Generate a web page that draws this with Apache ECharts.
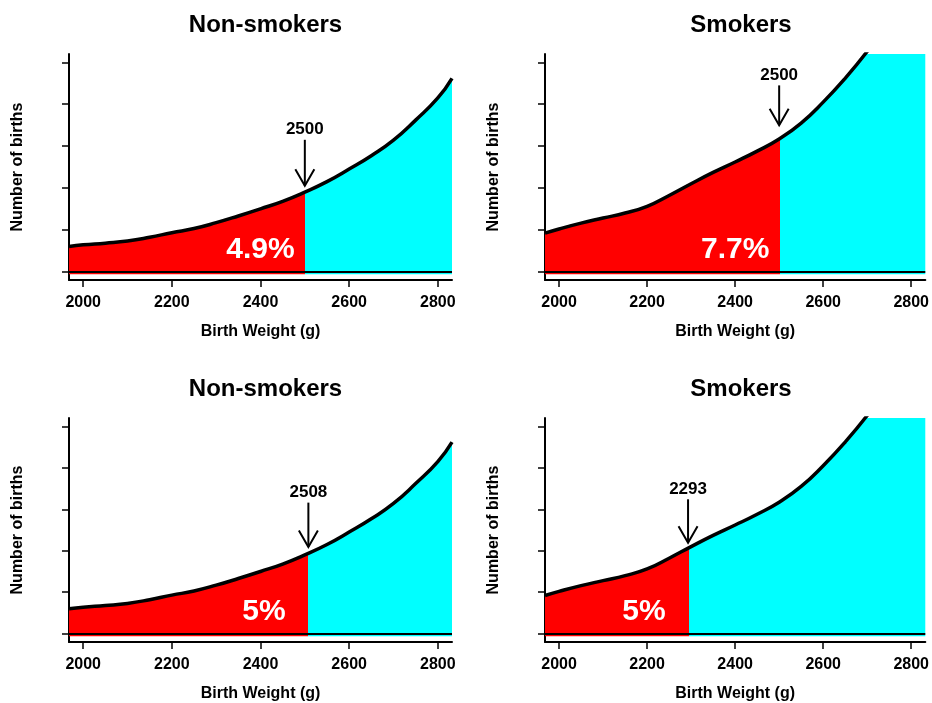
<!DOCTYPE html>
<html>
<head>
<meta charset="utf-8">
<script src="https://cdn.jsdelivr.net/npm/echarts@6/dist/echarts.min.js"></script>
<style>
  html, body { margin: 0; padding: 0; background: #fff; }
  #chart { width: 932px; height: 703px; }
</style>
</head>
<body>
<div id="chart"></div>
<script>
// Birth weight (g) sample points shared by both density curves
const weights = [1968, 2000, 2050, 2100, 2150, 2200, 2250, 2300, 2350, 2400, 2450, 2500, 2550, 2600, 2650, 2700, 2750, 2800, 2832];
// Relative number of births (arbitrary units, one unit per y tick)
const nonSmokers = [0.60, 0.64, 0.68, 0.73, 0.82, 0.93, 1.03, 1.17, 1.33, 1.50, 1.68, 1.90, 2.15, 2.45, 2.77, 3.14, 3.62, 4.15, 4.62];
const smokers = [0.92, 1.02, 1.16, 1.28, 1.40, 1.56, 1.82, 2.10, 2.37, 2.62, 2.88, 3.17, 3.55, 4.05, 4.62, 5.26, 5.98, 6.75, 7.30];

// Panels: top row uses a fixed 2500 g cutoff, bottom row a fixed 5% tail
const panelTitles = ['Non-smokers', 'Smokers', 'Non-smokers', 'Smokers'];
const panelGroups = ['non', 'smk', 'non', 'smk'];
const cutoffs = [2500, 2500, 2508, 2293];
const shares = ['4.9%', '7.7%', '5%', '5%'];
// Arrow ends (in births units) pointing at each cutoff
const arrowTop = [3.15, 4.45, 3.16, 3.24];
const arrowTip = [2.05, 3.50, 2.09, 2.19];

const xTicks = [2000, 2200, 2400, 2600, 2800];
const yTicks = [0, 1, 2, 3, 4, 5];

const X_MIN = 1968, X_MAX = 2832;
const FONT = '"Liberation Sans", Arial, Helvetica, sans-serif';
const RED = '#ff0000', CYAN = '#00ffff';
const SMOOTH = 0.5;
const curves = { non: nonSmokers, smk: smokers };

const gridBoxes = [
  { left: 69, top: 54, width: 383, height: 226 },
  { left: 545, top: 54, width: 382, height: 226 },
  { left: 69, top: 418, width: 383, height: 226 },
  { left: 545, top: 418, width: 382, height: 226 }
];

const grid = [], xAxis = [], yAxis = [], series = [], title = [];

panelTitles.forEach((name, p) => {
  const g = gridBoxes[p];
  grid.push(Object.assign({ containLabel: false }, g));
  title.push({
    text: name,
    left: g.left + g.width / 2,
    top: g.top - 46,
    textAlign: 'center',
    textStyle: { fontFamily: FONT, fontSize: 24, fontWeight: 'bold', color: '#000' }
  });
  xAxis.push({
    type: 'value', gridIndex: p, min: X_MIN, max: X_MAX,
    name: 'Birth Weight (g)', nameLocation: 'middle', nameGap: 44,
    nameTextStyle: { fontFamily: FONT, fontSize: 16, fontWeight: 'bold', color: '#000' },
    axisLine: { show: true, onZero: false, lineStyle: { color: '#000', width: 2 } },
    axisTick: { show: true, length: 7, customValues: xTicks, lineStyle: { color: '#000', width: 1.5 } },
    axisLabel: {
      show: true, customValues: xTicks, margin: 15, formatter: v => String(v),
      fontFamily: FONT, fontSize: 16, fontWeight: 'bold', color: '#000'
    },
    splitLine: { show: false }
  });
  yAxis.push({
    type: 'value', gridIndex: p, min: -0.2, max: 5.2,
    name: 'Number of births', nameLocation: 'middle', nameGap: 43,
    nameTextStyle: { fontFamily: FONT, fontSize: 16, fontWeight: 'bold', color: '#000' },
    axisLine: { show: true, onZero: false, lineStyle: { color: '#000', width: 2 } },
    axisTick: { show: true, length: 7, customValues: yTicks, lineStyle: { color: '#000', width: 1.5 } },
    axisLabel: { show: false },
    splitLine: { show: false }
  });

  const pts = weights.map((w, i) => [w, curves[panelGroups[p]][i]]);

  // filled area: red below the cutoff, cyan above it (hard gradient stop in screen space)
  const f = (cutoffs[p] - X_MIN) / (X_MAX - X_MIN);
  const fill = new echarts.graphic.LinearGradient(g.left, 0, g.left + g.width, 0, [
    { offset: 0, color: RED }, { offset: f, color: RED },
    { offset: f, color: CYAN }, { offset: 1, color: CYAN }
  ], true);
  series.push({
    type: 'line', xAxisIndex: p, yAxisIndex: p, data: pts,
    smooth: SMOOTH, symbol: 'none', clip: true, z: 1, silent: true,
    lineStyle: { width: 0 },
    areaStyle: { color: fill, opacity: 1, origin: -0.06 }
  });

  // outline of the density curve and the zero line
  series.push({
    type: 'line', xAxisIndex: p, yAxisIndex: p, data: pts,
    smooth: SMOOTH, symbol: 'none', clip: true, z: 3, silent: true,
    lineStyle: { color: '#000', width: 3.5 },
    itemStyle: { color: '#000' },
    markLine: {
      silent: true, symbol: ['none', 'none'], label: { show: false },
      lineStyle: { color: '#000', width: 2, type: 'solid' },
      data: [{ yAxis: 0 }]
    }
  });

  // arrow, cutoff label and tail share
  series.push({
    type: 'custom', xAxisIndex: p, yAxisIndex: p, clip: false, z: 5, silent: true,
    data: [[cutoffs[p], arrowTop[p], arrowTip[p]]],
    renderItem: function (params, api) {
      const c = api.value(0);
      const top = api.coord([c, api.value(1)]);
      const tip = api.coord([c, api.value(2)]);
      const pct = api.coord([c - 100, 0.52]);
      const hx = 9.5, hy = 16.5;
      return {
        type: 'group',
        children: [
          { type: 'line', shape: { x1: top[0], y1: top[1], x2: tip[0], y2: tip[1] },
            style: { stroke: '#000', lineWidth: 2 } },
          { type: 'polyline', shape: { points: [[tip[0] - hx, tip[1] - hy], [tip[0], tip[1]], [tip[0] + hx, tip[1] - hy]] },
            style: { stroke: '#000', lineWidth: 2, fill: null } },
          { type: 'text', x: top[0], y: top[1] - 10,
            style: { text: String(c), fontFamily: FONT, fontSize: 17, fontWeight: 'bold', fill: '#000', align: 'center', verticalAlign: 'middle' } },
          { type: 'text', x: pct[0], y: pct[1],
            style: { text: shares[p], fontFamily: FONT, fontSize: 30, fontWeight: 'bold', fill: '#fff', align: 'center', verticalAlign: 'middle' } }
        ]
      };
    }
  });
});

const chart = echarts.init(document.getElementById('chart'), null, { renderer: 'canvas' });
chart.setOption({
  animation: false,
  backgroundColor: '#fff',
  textStyle: { fontFamily: FONT },
  title, grid, xAxis, yAxis, series
});
</script>
</body>
</html>
